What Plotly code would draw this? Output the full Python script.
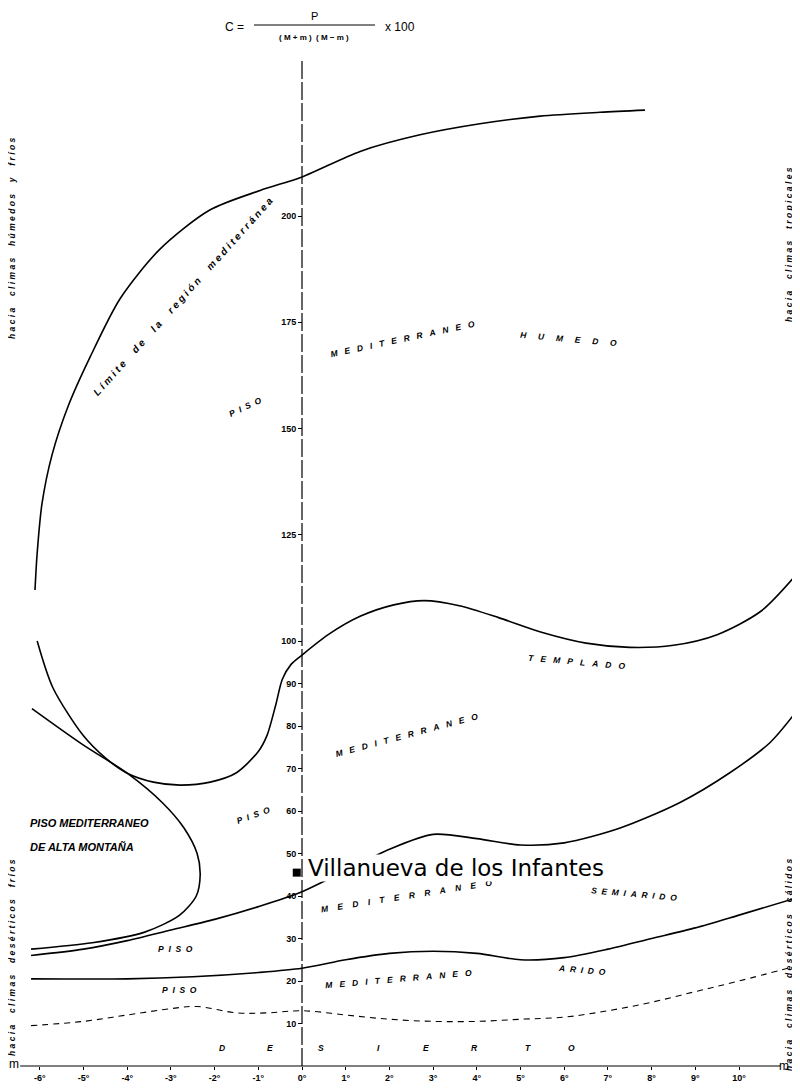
import plotly.graph_objects as go

# ---------------- data (m in degrees C, C = climagram quotient) ----------------
x_ticks = list(range(-6, 11))
x_ticktext = [f"{v}°" for v in x_ticks]
y_ticks = [10, 20, 30, 40, 50, 60, 70, 80, 90, 100, 125, 150, 175, 200]
y_ticktext = [str(v) for v in y_ticks]

# limit of the Mediterranean region (big arc)
limit_m = [-6.11, -6.06, -5.95, -5.72, -5.35, -4.85, -4.16, -3.25, -2.11, -0.96, 0.0, 1.33, 2.70, 4.07, 5.45, 6.82, 7.85]
limit_q = [112, 120.7, 132.3, 143.8, 155.3, 166.8, 180.6, 192.2, 201.4, 206, 209.2, 215.2, 219.1, 221.7, 223.5, 224.4, 224.9]

# humid / temperate boundary
humid_m = [-6.06, -5.7, -5.01, -4.5, -4.0, -3.4, -2.79, -2.1, -1.5, -1.0, -0.8, -0.6, -0.45, -0.25, 0.0, 0.6, 1.33, 2.1, 2.8, 3.6, 4.5, 5.5, 6.5, 7.5, 8.5, 9.5, 10.5, 11.3]
humid_q = [100, 89, 77.8, 72.5, 68.9, 66.8, 66.1, 66.8, 69, 74, 77.8, 85, 91, 94.5, 96.7, 101.5, 105.8, 108.5, 109.5, 108.3, 105.5, 102, 99.5, 98.5, 99, 101.5, 107, 115.5]

# high-mountain boundary
mount_m = [-6.18, -5.0, -4.0, -3.2, -2.7, -2.40, -2.33, -2.42, -2.8, -3.6, -4.8, -6.2]
mount_q = [84.1, 75.5, 68.9, 62, 56, 50, 45, 40, 35.5, 31.5, 29, 27.5]

# temperate / semi-arid boundary
semi_m = [-6.2, -5, -4, -3, -2, -1, 0, 1, 2, 3, 4, 5, 6, 7.28, 8.65, 9.79, 10.7, 11.28]
semi_q = [26, 27.5, 29.5, 32, 34.5, 37.5, 41, 46, 51, 54.5, 53.5, 52, 52.5, 56, 62, 69, 76, 83]

# semi-arid / arid boundary
arid_m = [-6.2, -4, -2.5, -1, 0, 1, 2, 3, 4, 5, 6, 7, 8, 9, 10, 11.3]
arid_q = [20.5, 20.5, 21, 22, 23, 25, 26.5, 27, 26.5, 25, 25.5, 27.5, 30, 32.5, 35.5, 39.5]

# arid / desert boundary (dashed)
desert_m = [-6.2, -5, -4, -3, -2.4, -1.5, -0.8, 0, 1, 2, 3, 4, 5, 6, 7, 8, 9, 10, 11.3]
desert_q = [9.5, 10.5, 12, 13.5, 14, 12.5, 12.5, 13, 12, 11, 10.5, 10.5, 11, 11.5, 13, 15, 17.5, 20, 23.5]

# station
station_name = "Villanueva de los Infantes"
station_m = [-0.12]
station_q = [45.5]

# ---------------- geometry (reference pixels; page body has an 8px margin) ----------------
OFF = 8
W, H = 800 - OFF, 1089 - OFF
PX_PER_DEG = 43.7
X0_PX = 302 - OFF          # m = 0 axis
PX_PER_Q = 4.25
Y0_PX = 1066 - OFF         # C = 0 axis

x_range = [-X0_PX / PX_PER_DEG, (W - X0_PX) / PX_PER_DEG]
y_range = [(Y0_PX - H) / PX_PER_Q, Y0_PX / PX_PER_Q]


def px(xr):
    return (xr - OFF) / W


def py(yr):
    return 1 - (yr - OFF) / H


fig = go.Figure()

line_style = dict(color="black", width=1.6, shape="spline", smoothing=0.8)
for mm, qq in [(limit_m, limit_q), (humid_m, humid_q), (mount_m, mount_q),
               (semi_m, semi_q), (arid_m, arid_q)]:
    fig.add_trace(go.Scatter(x=mm, y=qq, mode="lines", line=line_style,
                             hoverinfo="skip", showlegend=False))
fig.add_trace(go.Scatter(x=desert_m, y=desert_q, mode="lines",
                         line=dict(color="black", width=1.1, dash="6px,5px", shape="spline"),
                         hoverinfo="skip", showlegend=False))
fig.add_trace(go.Scatter(x=station_m, y=station_q, mode="markers",
                         marker=dict(symbol="square", size=8, color="black"),
                         hoverinfo="skip", showlegend=False))

# axes lines
fig.add_shape(type="line", x0=0, x1=0, y0=0, y1=(Y0_PX - 52) / PX_PER_Q,
              line=dict(color="black", width=1.2, dash="18px,3px"))
fig.add_shape(type="line", x0=-6.45, x1=10.95, y0=0, y1=0,
              line=dict(color="black", width=1.2))

FONT = "Liberation Sans"
fig.update_layout(
    width=W, height=H,
    margin=dict(l=0, r=0, t=0, b=0),
    paper_bgcolor="white", plot_bgcolor="white",
    showlegend=False,
    font=dict(family=FONT, color="black"),
    xaxis=dict(range=x_range, tickvals=x_ticks, ticktext=x_ticktext,
               showgrid=False, zeroline=False, showline=False,
               ticks="outside", ticklen=3, tickcolor="black",
               anchor="free", position=(H - Y0_PX) / H,
               tickfont=dict(size=9, family=FONT, weight="bold")),
    yaxis=dict(range=y_range, tickvals=y_ticks, ticktext=y_ticktext,
               showgrid=False, zeroline=False, showline=False,
               ticks="outside", ticklen=4, tickcolor="black",
               anchor="free", position=X0_PX / W, side="left",
               tickfont=dict(size=9, family=FONT, weight="bold")),
)

NB = "\u00a0"


def sp(s, gap=1, wgap=3):
    out = []
    for ch in s:
        out.append(NB * wgap if ch == " " else ch)
    return (NB * gap).join(out)


def ann(text, x, y, angle=0, size=8.5, xanchor="center"):
    fig.add_annotation(text=text, x=x, y=y, xref="x", yref="y", showarrow=False,
                       textangle=angle, xanchor=xanchor, yanchor="middle",
                       font=dict(size=size, family=FONT, weight="bold", style="italic"))


# zone labels
ann(sp("Límite de la región mediterránea"), -2.72, 181, angle=-48, size=10)
ann(sp("PISO", 2), -1.3, 155, angle=-25)
ann(sp("MEDITERRANEO", 3), 2.3, 171, angle=-12)
ann(sp("HUMEDO", 5), 6.1, 171, angle=5)

ann(sp("PISO", 2), -1.1, 59, angle=-20)
ann(sp("MEDITERRANEO", 3), 2.4, 78, angle=-15)
ann(sp("TEMPLADO", 3), 6.3, 95, angle=5)

ann("PISO MEDITERRANEO", -6.27, 57.2, size=11, xanchor="left")
ann("DE ALTA MONTAÑA", -6.27, 51.5, size=11, xanchor="left")

ann(sp("PISO", 2), -2.9, 27.5)
ann(sp("MEDITERRANEO", 4), 2.4, 40, angle=-9)
ann(sp("SEMIARIDO", 2), 7.6, 40.5, angle=5)

ann(sp("PISO", 2), -2.8, 18)
ann(sp("MEDITERRANEO", 3), 2.2, 20.5, angle=-5)
ann(sp("ARIDO", 2), 6.4, 22.5, angle=5)

desert_letters = list("DESIERTO")
desert_pos = [-1.83, -0.73, 0.43, 1.74, 2.84, 3.94, 5.17, 6.16]
for ch, xm in zip(desert_letters, desert_pos):
    ann(ch, xm, 4.2)

# station label
fig.add_annotation(text=station_name, x=0.12, y=46.5, xref="x", yref="y", showarrow=False,
                   xanchor="left", yanchor="middle", bgcolor="white", borderpad=0,
                   font=dict(size=23, family="DejaVu Sans", color="black"))

# side notes (paper coords)
side = dict(size=8.5, family=FONT, weight="bold", style="italic")
for txt, xr, yr in [("hacia climas húmedos y fríos", 12, 238),
                    ("hacia climas tropicales", 789, 245),
                    ("hacia climas desérticos fríos", 12, 958),
                    ("hacia climas desérticos cálidos", 789, 965)]:
    fig.add_annotation(text=sp(txt), x=px(xr), y=py(yr), xref="paper", yref="paper",
                       xanchor="center", yanchor="middle",
                       textangle=-90, showarrow=False, font=side)

# axis end letters
fig.add_annotation(text="m", x=px(14), y=py(1064), xref="paper", yref="paper",
                   xanchor="center", yanchor="middle",
                   showarrow=False, font=dict(size=12, family=FONT))
fig.add_annotation(text="m", x=px(784), y=py(1066), xref="paper", yref="paper",
                   xanchor="center", yanchor="middle",
                   showarrow=False, font=dict(size=12, family=FONT))

# formula
fml = dict(size=12, family=FONT)
for txt, xr, yr, f in [("C =", 234, 27, fml), ("P", 314, 16, dict(size=11, family=FONT)),
                       ("( M + m )  ( M − m )", 314, 37, dict(size=8, family=FONT, weight="bold")),
                       ("x 100", 400, 27, fml)]:
    fig.add_annotation(text=txt, x=px(xr), y=py(yr), xref="paper", yref="paper",
                       xanchor="center", yanchor="middle", showarrow=False, font=f)
fig.add_shape(type="line", xref="paper", yref="paper", x0=px(254), x1=px(375),
              y0=py(25), y1=py(25), line=dict(color="black", width=1))

fig.write_html("out.html")
